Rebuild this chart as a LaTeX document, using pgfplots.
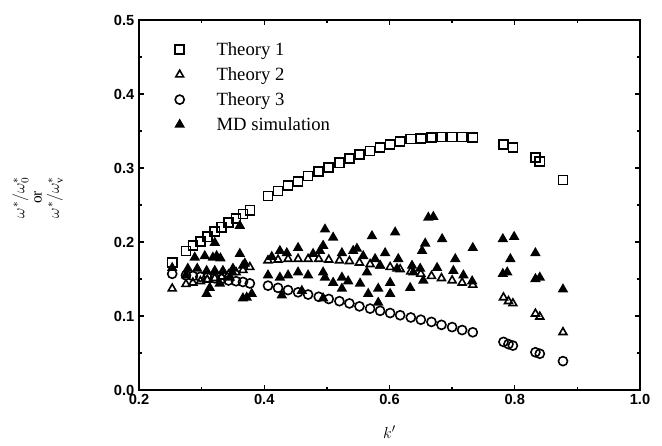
\documentclass[border=0pt]{standalone}
\usepackage{fontspec}
\setmainfont{Liberation Serif}
\setsansfont{Liberation Sans}
\usepackage{pgfplots}
\pgfplotsset{compat=1.18}

\begin{document}
\begin{tikzpicture}
\begin{axis}[
  name=ax,
  scale only axis,
  width=375.75pt, height=277.5pt,
  xmin=0.2, xmax=1.0, ymin=0, ymax=0.5,
  xtick={0.2,0.4,...,1.0}, ytick={0,0.1,...,0.5},
  minor tick num=1,
  tick align=inside,
  major tick length=4pt, minor tick length=2.5pt,
  axis line style={line width=1.2pt},
  every tick/.style={black, line width=1pt},
  tick label style={font=\sffamily\bfseries\fontsize{11}{13}\selectfont},
  /pgf/number format/assume math mode=true,
  xticklabel style={/pgf/number format/.cd, fixed, fixed zerofill, precision=1},
  yticklabel style={/pgf/number format/.cd, fixed, fixed zerofill, precision=1},
  xlabel={$k'$},
  xlabel style={font=\fontsize{13}{15}\selectfont, at={(rel axis cs:0.5,0)}, anchor=center, yshift=-31.5pt},
  ylabel={$\omega^{*}/\omega_0^{*}$\\or\\$\omega^{*}/\omega_{\mathrm{v}}^{*}$},
  ylabel style={font=\fontsize{11.5}{13}\selectfont, align=center, at={(rel axis cs:0,0.52)}, anchor=center, yshift=76pt},
  legend style={draw=none, fill=none, at={(rel axis cs:0.05,0.955)}, anchor=north west,
    font=\fontsize{14}{16}\selectfont, row sep=3.5pt},
  legend cell align=left,
  legend image code/.code={\draw[#1] plot coordinates {(0.3cm,0cm)}; \path[draw=none] (0cm,0cm) (1.2cm,0cm);},
  every axis plot/.append style={only marks, line width=1.2pt, mark size=3.4pt},
]
% Theory 1
\addplot[mark=square] coordinates {
(0.253,0.172)(0.275,0.188)(0.286,0.195)(0.298,0.201)(0.309,0.207)(0.321,0.214)
(0.332,0.220)(0.343,0.226)(0.355,0.232)(0.366,0.238)(0.377,0.243)
(0.406,0.262)(0.422,0.269)(0.438,0.276)(0.454,0.282)(0.470,0.289)(0.487,0.295)
(0.503,0.301)(0.520,0.307)(0.536,0.313)(0.552,0.318)(0.569,0.323)(0.585,0.328)
(0.601,0.332)(0.617,0.336)(0.634,0.339)(0.650,0.340)(0.667,0.341)(0.683,0.342)
(0.700,0.342)(0.716,0.342)(0.733,0.341)
(0.782,0.332)(0.797,0.328)
(0.833,0.314)(0.840,0.309)
(0.877,0.284)
};
\addlegendentry{Theory 1}
% Theory 2
\addplot[mark=triangle] coordinates {
(0.253,0.137)(0.275,0.143)(0.286,0.145)(0.298,0.147)(0.309,0.149)(0.321,0.151)
(0.332,0.153)(0.343,0.156)(0.355,0.159)(0.366,0.162)(0.377,0.166)
(0.406,0.175)(0.422,0.176)(0.438,0.177)(0.454,0.177)(0.470,0.177)(0.487,0.177)
(0.503,0.176)(0.520,0.175)(0.536,0.174)(0.552,0.172)(0.569,0.170)(0.585,0.168)
(0.601,0.166)(0.617,0.163)(0.634,0.160)(0.650,0.157)(0.667,0.154)(0.683,0.151)
(0.700,0.148)(0.716,0.145)(0.733,0.142)
(0.782,0.125)(0.790,0.120)(0.797,0.117)
(0.833,0.103)(0.840,0.099)
(0.877,0.078)
};
\addlegendentry{Theory 2}
% Theory 3
\addplot[mark=o] coordinates {
(0.253,0.157)(0.275,0.155)(0.286,0.154)(0.298,0.153)(0.309,0.152)(0.321,0.151)
(0.332,0.150)(0.343,0.148)(0.355,0.147)(0.366,0.146)(0.377,0.144)
(0.406,0.141)(0.422,0.138)(0.438,0.135)(0.454,0.132)(0.470,0.129)(0.487,0.126)
(0.503,0.123)(0.520,0.120)(0.536,0.117)(0.552,0.113)(0.569,0.110)(0.585,0.107)
(0.601,0.104)(0.617,0.101)(0.634,0.098)(0.650,0.095)(0.667,0.092)(0.683,0.088)
(0.700,0.085)(0.716,0.081)(0.733,0.078)
(0.782,0.065)(0.790,0.062)(0.797,0.060)
(0.833,0.051)(0.840,0.049)
(0.877,0.039)
};
\addlegendentry{Theory 3}
% MD simulation
\addplot[mark=triangle*, fill=black] coordinates {
(0.253,0.165)(0.275,0.155)(0.278,0.164)(0.289,0.179)(0.293,0.164)(0.305,0.181)
(0.308,0.161)(0.318,0.179)(0.321,0.199)(0.324,0.181)(0.330,0.178)(0.321,0.161)
(0.308,0.130)(0.313,0.138)(0.334,0.161)(0.329,0.144)(0.345,0.152)(0.350,0.164)
(0.361,0.184)(0.361,0.222)(0.366,0.168)(0.372,0.125)(0.380,0.130)(0.349,0.159)
(0.369,0.171)(0.366,0.124)
(0.406,0.155)(0.412,0.180)(0.425,0.188)(0.425,0.152)(0.428,0.128)(0.436,0.185)
(0.438,0.155)(0.454,0.192)(0.454,0.159)(0.460,0.134)(0.470,0.155)(0.478,0.184)
(0.489,0.188)(0.494,0.195)(0.494,0.159)(0.497,0.152)(0.494,0.124)(0.497,0.217)
(0.510,0.206)(0.510,0.145)(0.524,0.185)(0.524,0.152)(0.524,0.137)(0.534,0.147)
(0.542,0.188)(0.548,0.191)(0.553,0.144)(0.558,0.181)(0.564,0.159)(0.566,0.130)
(0.572,0.208)(0.577,0.177)(0.582,0.137)(0.582,0.118)(0.585,0.168)(0.593,0.185)
(0.601,0.145)(0.601,0.130)(0.609,0.213)(0.612,0.164)(0.614,0.177)(0.633,0.138)
(0.636,0.168)(0.638,0.159)(0.649,0.164)(0.652,0.188)(0.654,0.148)(0.657,0.198)
(0.662,0.233)(0.670,0.234)(0.676,0.165)(0.684,0.204)(0.702,0.161)(0.705,0.177)
(0.718,0.155)(0.732,0.147)(0.733,0.192)
(0.781,0.204)(0.799,0.207)(0.793,0.177)(0.781,0.157)(0.788,0.159)
(0.833,0.185)(0.833,0.150)(0.840,0.152)
(0.877,0.136)
};
\addlegendentry{MD simulation}
\end{axis}
\pgfresetboundingbox
\path ([xshift=-104.25pt,yshift=-41.25pt]ax.south west) rectangle ([xshift=16.5pt,yshift=15pt]ax.north east);
\end{tikzpicture}
\end{document}
